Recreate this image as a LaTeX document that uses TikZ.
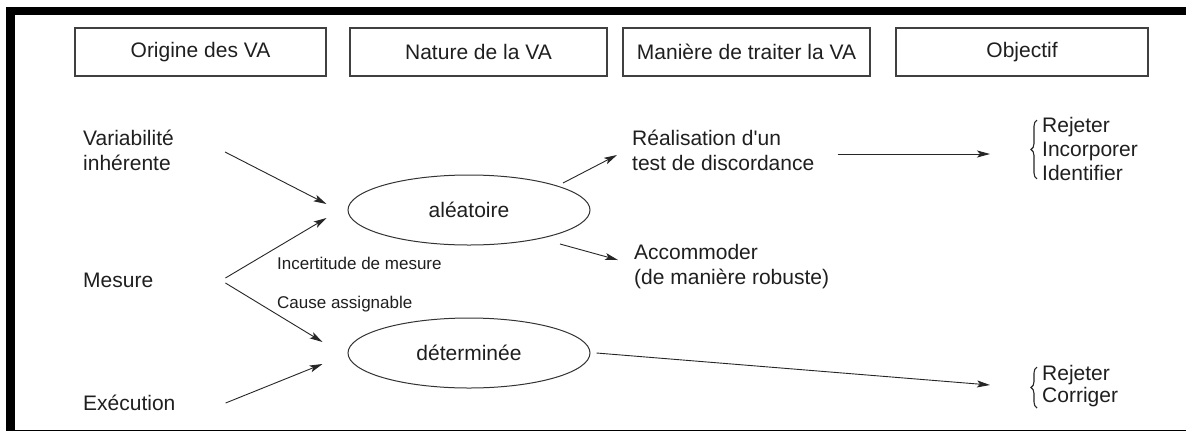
\documentclass[tikz,border=0pt]{standalone}
\usepackage{fontspec}
\setmainfont{Liberation Sans}
\usetikzlibrary{arrows.meta,shapes.geometric,decorations.pathreplacing}
\begin{document}
\begin{tikzpicture}[x=1pt,y=-1pt,
  txt/.style={font=\fontsize{21}{25}\selectfont, inner sep=0pt, align=left, text=black!88},
  small/.style={font=\fontsize{17}{20}\selectfont, inner sep=0pt, text=black!88},
  hdr/.style={draw=black!75, line width=1.1pt, minimum height=48pt, inner sep=0pt, text=black!88, font=\fontsize{21}{25}\selectfont},
  oval/.style={ellipse, draw=black!80, line width=1pt, minimum width=242pt, minimum height=70pt, inner sep=0pt, text=black!88, font=\fontsize{21}{25}\selectfont},
  arr/.style={draw=black!85, line width=0.9pt, -{Stealth[length=13pt,width=7pt,inset=3pt]}},
  brc/.style={draw=black!85, line width=1.1pt, decorate, decoration={brace, amplitude=6pt}}
]
\useasboundingbox (0,0) rectangle (1186,432);
\fill[white] (0,0) rectangle (1186,432);
% frame
\fill[black] (6,7) rectangle (1186,15);
\fill[black] (6,7) rectangle (15,431);
\draw[black, line width=1.5pt] (6,430.5) -- (1186,430.5);
% headers
\node[hdr, minimum width=251pt] (h1) at (200.5,52) {Origine des VA};
\node[hdr, minimum width=257pt] (h2) at (478.5,52) {Nature de la VA};
\node[hdr, minimum width=247pt] (h3) at (746.5,52) {Manière de traiter la VA};
\node[hdr, minimum width=252pt] (h4) at (1022,52) {Objectif};
% left column
\node[txt, anchor=west] (var) at (83,150) {Variabilité\\inhérente};
\node[txt, anchor=west] (mes) at (83,280) {Mesure};
\node[txt, anchor=west] (exe) at (83,403) {Exécution};
% ellipses
\node[oval] (alea) at (469,210) {aléatoire};
\node[oval] (det) at (469,353) {déterminée};
% treatment
\node[txt, anchor=west] (real) at (632,150) {Réalisation d\textquotesingle un\\test de discordance};
\node[txt, anchor=west] (acc) at (634,267) {Accommoder\\(de manière robuste)};
% objectives
\node[txt, anchor=west, font=\fontsize{21}{24}\selectfont] (obj1) at (1042,149) {Rejeter\\Incorporer\\Identifier};
\node[txt, anchor=west, font=\fontsize{21}{22}\selectfont] (obj2) at (1042,386) {Rejeter\\Corriger};
% small labels
\node[small, anchor=base west] (inc) at (277,269) {Incertitude de mesure};
\node[small, anchor=base west] (cau) at (277,308) {Cause assignable};
% arrows
\draw[arr] ([shift={(51,2)}]var.east) -- ([shift={(-21,-6)}]alea.west);
\draw[arr] ([shift={(72,-2)}]mes.east) -- ([shift={(-21,8)}]alea.west);
\draw[arr] ([shift={(72,3)}]mes.east) -- ([shift={(-25,-11)}]det.west);
\draw[arr] ([shift={(50,0)}]exe.east) -- ([shift={(-25,11)}]det.west);
\draw[arr] ([shift={(94,-27)}]alea.center) -- ([shift={(-15,5)}]real.west);
\draw[arr] ([shift={(91,34)}]alea.center) -- ([shift={(-16,-7)}]acc.west);
\draw[arr] ([shift={(23,4)}]real.east) -- ([shift={(-52,5)}]obj1.west);
\draw[arr] ([shift={(6,0)}]det.east) -- ([shift={(-52,-1)}]obj2.west);
% braces
\draw[brc] ([shift={(-5,-2)}]obj1.south west) -- ([shift={(-5,3)}]obj1.north west);
\draw[brc] ([shift={(-5,1)}]obj2.south west) -- ([shift={(-5,2)}]obj2.north west);
\end{tikzpicture}
\end{document}
